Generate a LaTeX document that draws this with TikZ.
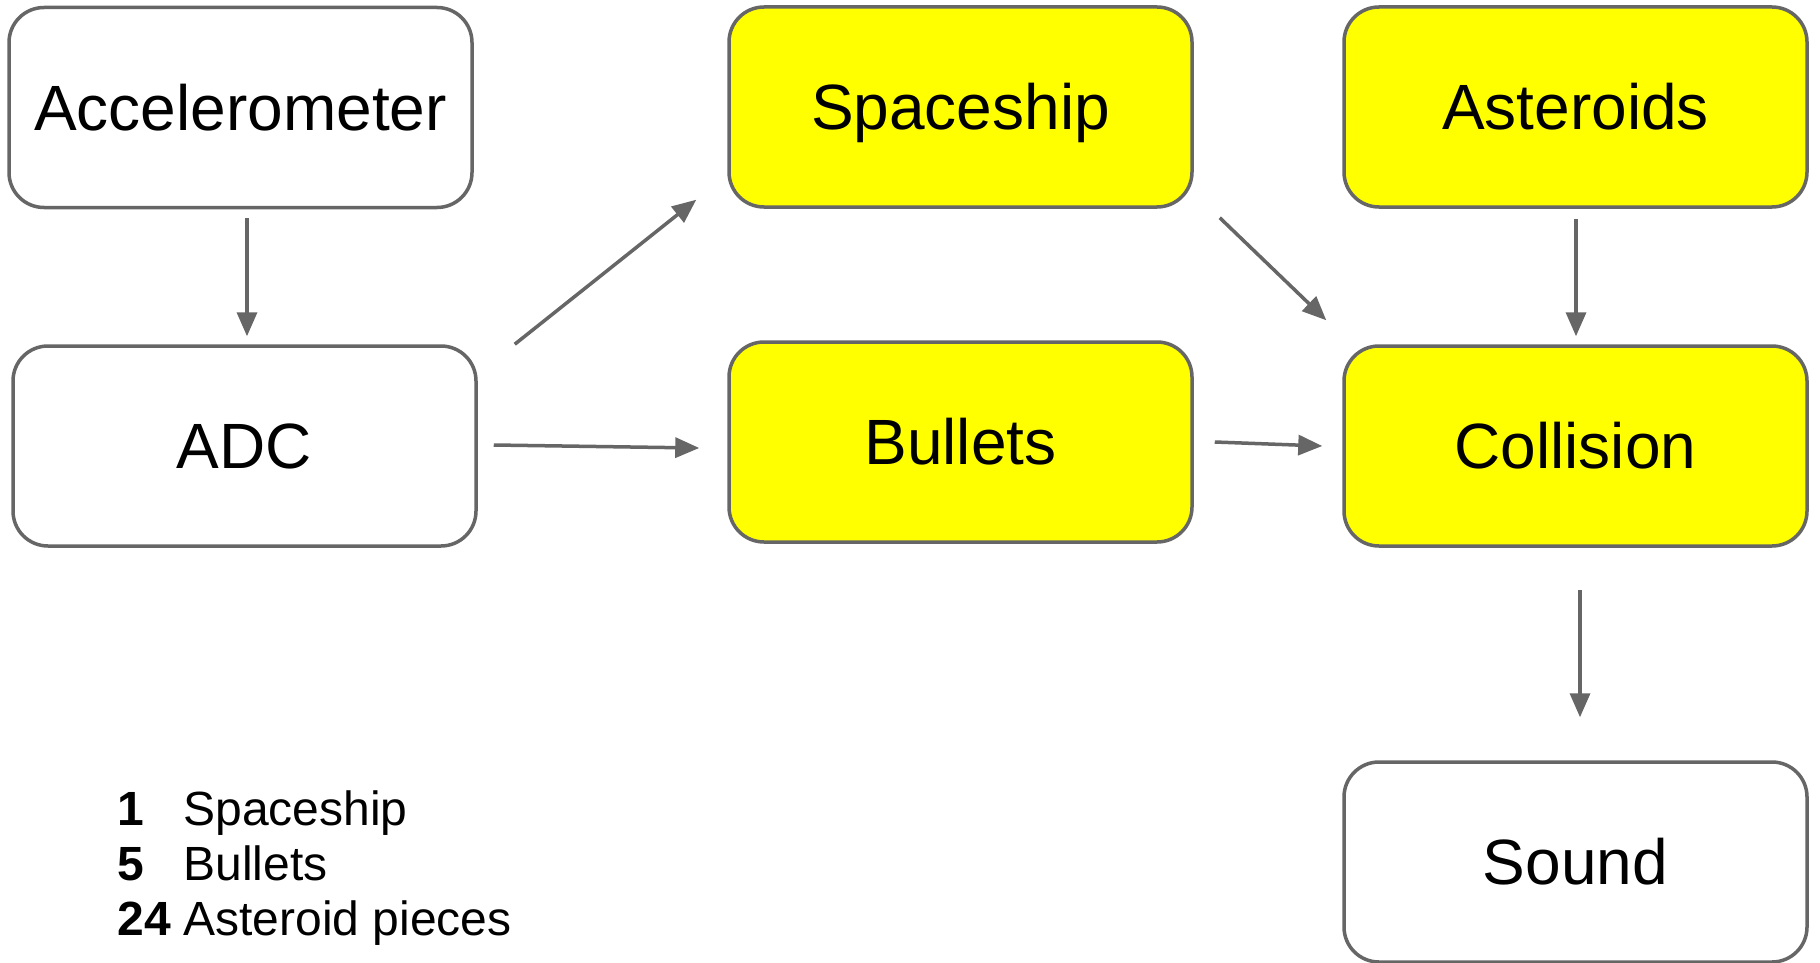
\documentclass[tikz,border=0pt]{standalone}
\usepackage{fontspec}
\setmainfont{Liberation Sans}
\usetikzlibrary{arrows.meta,calc}
\definecolor{edgegray}{HTML}{666666}
\definecolor{hlyellow}{HTML}{FFFF00}

\begin{document}
\begin{tikzpicture}[x=0.5pt,y=-0.5pt,
  block/.style={draw=edgegray,line width=1.75pt,rounded corners=17.5pt,
    minimum width=231.5pt,minimum height=100pt,inner sep=0pt,
    font=\fontsize{32pt}{38pt}\selectfont,text height=22.9pt,text depth=0pt},
  plainblock/.style={block,fill=white},
  hotblock/.style={block,fill=hlyellow},
  flow/.style={draw=edgegray,line width=1.75pt,
    -{Triangle[length=12pt,width=10pt]}},
  legend/.style={inner sep=0pt,anchor=base west,font=\fontsize{24pt}{28pt}\selectfont}
]
% canvas
\fill[white] (0,0) rectangle (1820,963);
\useasboundingbox (0,0) rectangle (1820,963);

% blocks
\node[plainblock] (acc) at (240.5,107.5) {Accelerometer};
\node[plainblock] (adc) at (244.5,446)   {ADC};
\node[hotblock]   (ship) at (960.5,107)  {Spaceship};
\node[hotblock]   (bul) at (960.5,442)   {Bullets};
\node[hotblock]   (ast) at (1575.5,107)  {Asteroids};
\node[hotblock]   (col) at (1575.5,446)  {Collision};
\node[plainblock] (snd) at (1575.5,862)  {Sound};

% connectors
\draw[flow] ($(acc.south)+(6.5,9)$) -- ($(adc.north)+(2.5,-8)$);
\draw[flow] ($(adc.north east)+(37,0)$) -- ($(ship.south west)+(-31,-9)$);
\draw[flow] ($(adc.east)+(16,-1)$) -- ($(bul.west)+(-28,6)$);
\draw[flow] ($(ship.south east)+(26,9)$) -- ($(col.north west)+(-16,-24)$);
\draw[flow] ($(ast.south)+(0.5,10)$) -- ($(col.north)+(0.5,-8)$);
\draw[flow] ($(bul.east)+(21,0)$) -- ($(col.west)+(-20,0)$);
\draw[flow] ($(col.south)+(4.5,42)$) -- ($(snd.north)+(4.5,-43)$);

% counts
\node[legend] (n1) at (117,825) {\bfseries 1};
\node[legend] (t1) at (183,825) {Spaceship};
\node[legend] (n2) at (117,880) {\bfseries 5};
\node[legend] (t2) at (183,880) {Bullets};
\node[legend] (n3) at (117,935) {\bfseries 24};
\node[legend] (t3) at (183,935) {Asteroid pieces};
\end{tikzpicture}
\end{document}
